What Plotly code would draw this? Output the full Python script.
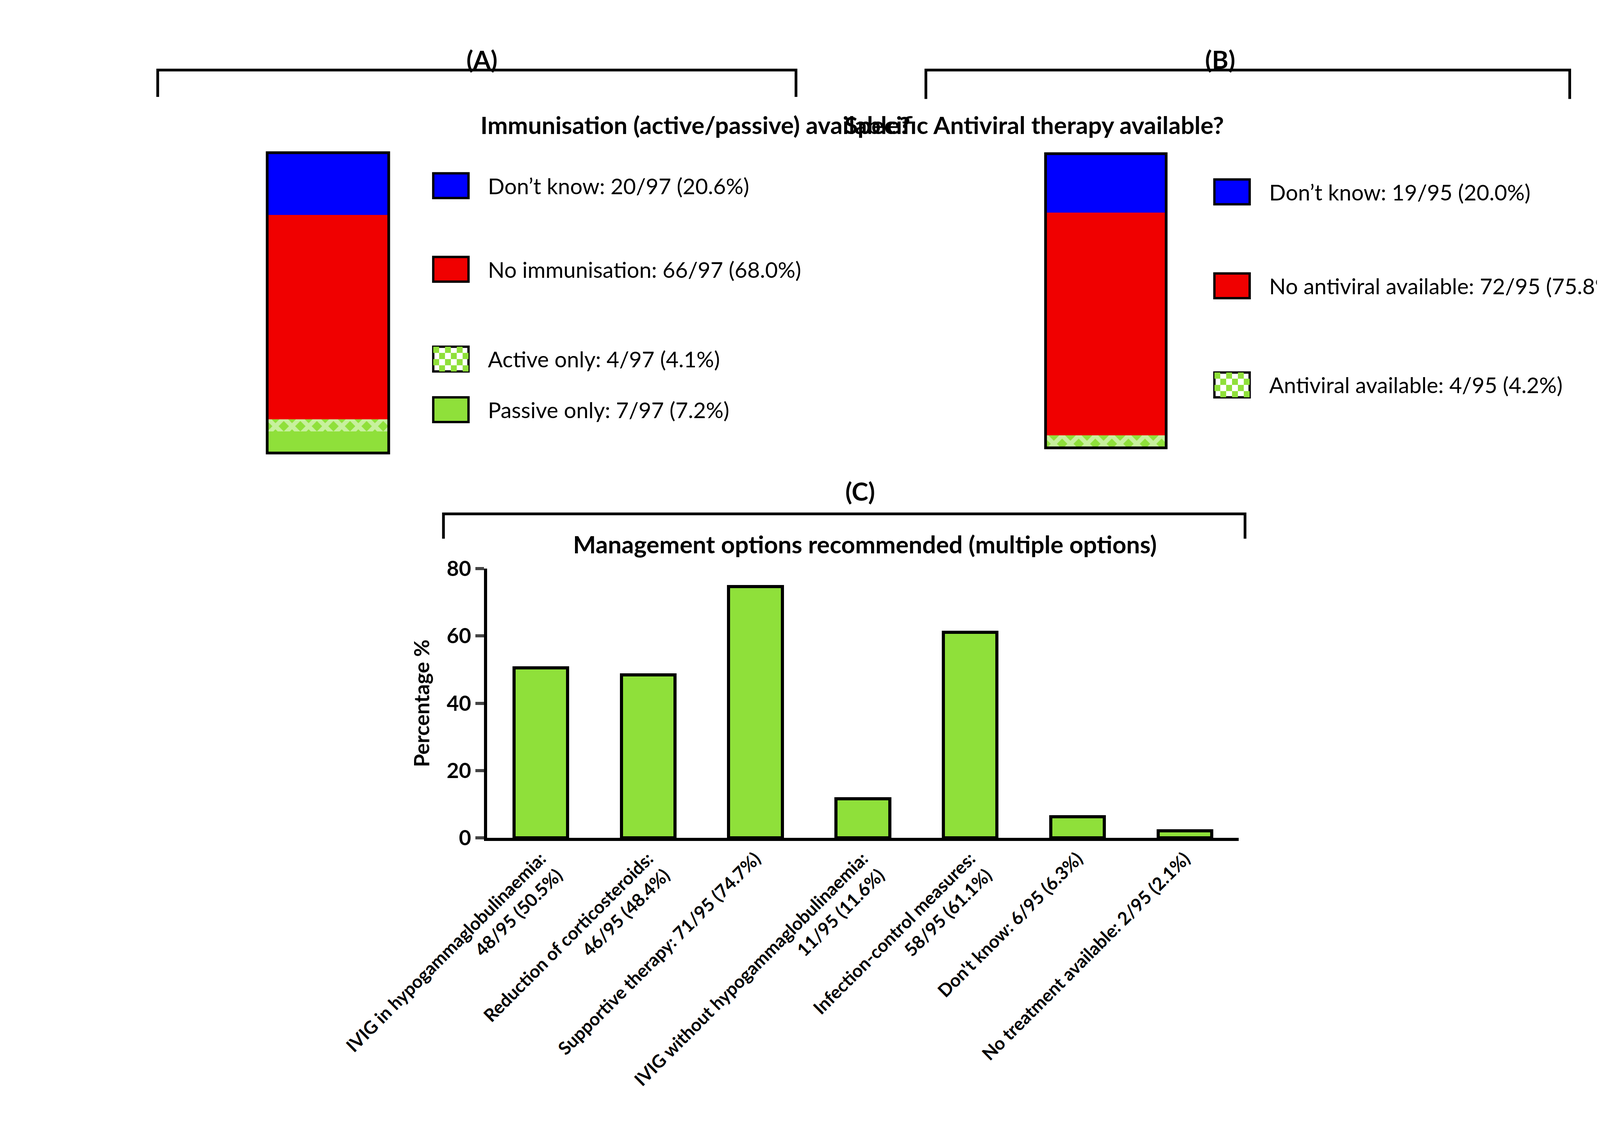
import plotly.graph_objects as go

W, H = 1568.0, 1076.0  # reference layout units, as fractions of the page

def px(x):
    return x / W

def py(y):
    return 1 - y / H

FONT = "Lato"
GREEN = "#8fe03a"
RED = "#f00000"
BLUE = "#0000ff"

# Panel A
a_labels = ["Passive only: 7/97 (7.2%)", "Active only: 4/97 (4.1%)",
            "No immunisation: 66/97 (68.0%)", "Don’t know: 20/97 (20.6%)"]
a_values = [7.2, 4.1, 68.0, 20.6]
a_colors = [GREEN, GREEN, RED, BLUE]
a_checker = [False, True, False, False]

# Panel B
b_labels = ["Antiviral available: 4/95 (4.2%)",
            "No antiviral available: 72/95 (75.8%)", "Don’t know: 19/95 (20.0%)"]
b_values = [4.2, 75.8, 20.0]
b_colors = [GREEN, RED, BLUE]
b_checker = [True, False, False]

# Panel C
c_labels = ["IVIG in hypogammaglobulinaemia:<br>48/95 (50.5%)",
            "Reduction of corticosteroids:<br>46/95 (48.4%)",
            "Supportive therapy: 71/95 (74.7%)",
            "IVIG without hypogammaglobulinaemia:<br>11/95 (11.6%)",
            "Infection-control measures:<br>58/95 (61.1%)",
            "Don't know: 6/95 (6.3%)",
            "No treatment available: 2/95 (2.1%)"]
c_values = [50.5, 48.4, 74.7, 11.6, 61.1, 6.3, 2.1]

fig = go.Figure()
shapes, annots = [], []

def stacked(values, colors, checker, xa, ya):
    for v, c, chk in zip(values, colors, checker):
        pat = dict(shape="x", fgcolor="white", bgcolor=c, size=30, solidity=0.6) if chk else None
        fig.add_trace(go.Bar(x=[0], y=[v], marker=dict(color=c, pattern=pat,
                             line=dict(color=c, width=0)),
                             width=1, xaxis=xa, yaxis=ya, showlegend=False))

stacked(a_values, a_colors, a_checker, "x", "y")
stacked(b_values, b_colors, b_checker, "x2", "y2")
fig.add_trace(go.Bar(x=c_labels, y=c_values, width=0.5, xaxis="x3", yaxis="y3",
                     marker=dict(color=GREEN, line=dict(color="black", width=8)),
                     showlegend=False))

hidden = dict(visible=False, fixedrange=True)
fig.update_layout(
    xaxis=dict(domain=[px(128), px(259)], range=[-0.5, 0.5], **hidden),
    yaxis=dict(domain=[py(423), py(132)], range=[0, 100], **hidden),
    xaxis2=dict(domain=[px(967), px(1097)], range=[-0.5, 0.5], **hidden),
    yaxis2=dict(domain=[py(418), py(133)], range=[0, 100], **hidden),
    xaxis3=dict(domain=[px(365), px(1175)], anchor="y3", showline=True, linecolor="black",
                linewidth=8, ticks="", tickangle=-45,
                tickfont=dict(size=46, family=FONT, color="black", weight="bold")),
    yaxis3=dict(domain=[py(796), py(535)], anchor="x3", range=[0, 80], dtick=20,
                showline=True, linecolor="black", linewidth=8, ticks="outside",
                ticklen=22, tickwidth=8, showgrid=False, zeroline=False,
                tickfont=dict(size=54, family=FONT, color="black", weight="bold"),
                title=dict(text="Percentage %", standoff=30,
                           font=dict(size=54, family=FONT, color="black", weight="bold"))),
    barmode="stack", bargap=0,
)

# frames around stacked bars
for x0, x1, y0, y1 in [(128, 259, 132, 423), (967, 1097, 133, 418)]:
    shapes.append(dict(type="rect", xref="paper", yref="paper", x0=px(x0), x1=px(x1),
                       y0=py(y1), y1=py(y0), line=dict(color="black", width=7)))

# brackets
for x0, x1, yt, yb in [(10, 698, 52, 78), (838, 1532, 52, 80), (318, 1182, 482, 506)]:
    shapes.append(dict(type="path", xref="paper", yref="paper",
                       path=f"M {px(x0)} {py(yb)} L {px(x0)} {py(yt)} L {px(x1)} {py(yt)} L {px(x1)} {py(yb)}",
                       line=dict(color="black", width=7)))

def legend_box(x, yc, color, checker):
    x0, x1, y0, y1 = x, x + 38, yc - 12, yc + 12
    shapes.append(dict(type="rect", xref="paper", yref="paper", x0=px(x0), x1=px(x1),
                       y0=py(y1), y1=py(y0), fillcolor="white" if checker else color,
                       line=dict(color="black", width=6), layer="below"))
    if checker:
        n, m = 6, 4
        cw, ch = (x1 - x0) / n, (y1 - y0) / m
        for i in range(n):
            for j in range(m):
                if (i + j) % 2 == 0:
                    shapes.append(dict(type="rect", xref="paper", yref="paper",
                                       x0=px(x0 + i * cw), x1=px(x0 + (i + 1) * cw),
                                       y0=py(y0 + (j + 1) * ch), y1=py(y0 + j * ch),
                                       fillcolor=color, line=dict(width=0), layer="below"))

def legend(labels, colors, checker, x, ys):
    for lab, c, chk, yc in zip(labels, colors, checker, ys):
        legend_box(x, yc, c, chk)
        annots.append(dict(text=lab, x=px(x + 58), y=py(yc), xref="paper", yref="paper",
                           xanchor="left", yanchor="middle", showarrow=False,
                           font=dict(size=56, family=FONT, color="black")))

legend(a_labels, a_colors, a_checker, 307, [381, 332, 245, 164])
legend(b_labels, b_colors, b_checker, 1149, [357, 261, 170])

def title(text, x, y, size):
    annots.append(dict(text=f"<b>{text}</b>", x=px(x), y=py(y), xref="paper", yref="paper",
                       showarrow=False, font=dict(size=size, family=FONT, color="black")))

title("(A)", 342, 26, 64)
title("Immunisation (active/passive) available?", 357, 90, 62)
title("(B)", 1172, 26, 64)
title("Specific Antiviral therapy available?", 1160, 90, 62)
title("(C)", 767, 460, 64)
title("Management options recommended (multiple options)", 772, 511, 62)

fig.update_layout(shapes=shapes, annotations=annots, autosize=True,
                  margin=dict(l=0, r=0, t=0, b=0), plot_bgcolor="white",
                  paper_bgcolor="white", font=dict(family=FONT))
fig.write_html("out.html", default_width="100vw", default_height="100vh")
